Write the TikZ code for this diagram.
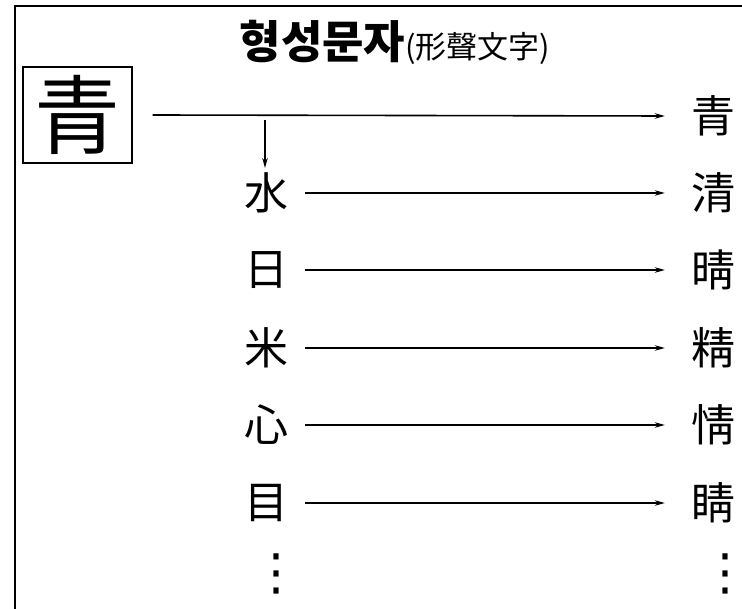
\documentclass[tikz,border=0pt]{standalone}
\usepackage{fontspec}
\setmainfont{Noto Sans CJK KR}
\newfontfamily\symfont{DejaVu Sans}
\usepackage{tikz}
\usetikzlibrary{positioning,arrows.meta}

\tikzset{
  han/.style={inner sep=0pt,font=\fontsize{44}{44}\selectfont},
  more/.style={inner sep=0pt,font=\symfont\fontsize{50}{50}\selectfont},
  link/.style={line width=1.6pt,-{Stealth[length=10pt,width=5.5pt]}}
}

\begin{document}
\begin{tikzpicture}[x=1pt,y=-1pt]
        \useasboundingbox (0,0) rectangle (742,609);
        \draw[line width=2pt] (15,640) -- (15,6) -- (760,6);
        % title
        \node[inner sep=0pt] (title) at (395,42)
          {\fontsize{45}{45}\selectfont\bfseries 형성문자\fontsize{31}{31}\selectfont\mdseries(形聲文字)};
        % phonetic part in the box
        \node[draw,line width=1.2pt,minimum width=109pt,minimum height=96pt,inner sep=0pt,
              font=\fontsize{86}{86}\selectfont] (sound) at (77.5,115) {青};
        % left column
        \node[han] (water) at (266,193) {水};
        \node[han] (sun) at (266,270) {日};
        \node[han] (rice) at (266,348) {米};
        \node[han] (heart) at (266,425) {心};
        \node[han] (eye) at (266,503) {目};
        \node[more] (ldots) at (276,574) {\makebox[10pt]{⋮}};
        % right column
        \node[han] (blue) at (713,116) {青};
        \node[han] (clear) at (713,193) {清};
        \node[han] (fine) at (713,270) {晴};
        \node[han] (pure) at (713,348) {精};
        \node[han] (feel) at (713,425) {情};
        \node[han] (pupil) at (713,503) {睛};
        \node[more] (rdots) at (725,574) {\makebox[10pt]{⋮}};
        \coordinate (split) at (265,120);
        \draw[link] ([xshift=20pt]sound.east) -- ([xshift=-26pt]blue.west);
        \draw[link] (split) -- (265,168);
        \draw[link] ([xshift=17pt]water.east) -- ([xshift=-26pt]clear.west);
        \draw[link] ([xshift=17pt]sun.east) -- ([xshift=-26pt]fine.west);
        \draw[link] ([xshift=17pt]rice.east) -- ([xshift=-26pt]pure.west);
        \draw[link] ([xshift=17pt]heart.east) -- ([xshift=-26pt]feel.west);
        \draw[link] ([xshift=17pt]eye.east) -- ([xshift=-26pt]pupil.west);
\end{tikzpicture}
\end{document}
